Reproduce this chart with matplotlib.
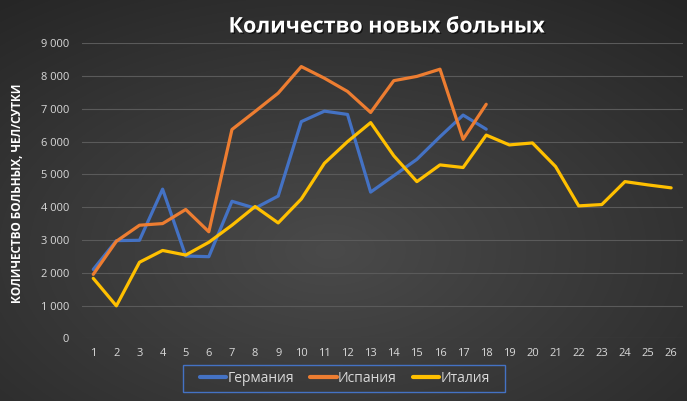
import numpy as np
import matplotlib
matplotlib.use("Agg")
import matplotlib.pyplot as plt
import matplotlib.ticker as mticker
import matplotlib.patheffects as pe
from matplotlib.patches import Rectangle

days = list(range(1, 27))
germany = [2100, 2980, 2990, 4550, 2510, 2490, 4180, 3970, 4340, 6610, 6930, 6830,
           4460, 4960, 5460, 6150, 6810, 6380]
spain = [1950, 2960, 3450, 3500, 3930, 3250, 6370, 6920, 7480, 8290, 7935, 7530,
         6890, 7860, 7990, 8210, 6070, 7140]
italy = [1830, 990, 2320, 2680, 2540, 2930, 3450, 4020, 3520, 4250, 5340, 6000,
         6580, 5570, 4780, 5290, 5210, 6200, 5900, 5960, 5240, 4040, 4080, 4780,
         4680, 4590]
series_names = ["Германия", "Испания", "Италия"]
colors = ["#4472C4", "#ED7D31", "#FFC000"]
title = "Количество новых больных"
ylabel = "КОЛИЧЕСТВО БОЛЬНЫХ, ЧЕЛ/СУТКИ"

plt.rcParams['font.family'] = ['Open Sans', 'DejaVu Sans']

fig = plt.figure(figsize=(6.87, 4.01), dpi=100)

# background radial gradient
bg = fig.add_axes([0, 0, 1, 1], zorder=-10)
H, W = 401, 687
yy, xx = np.mgrid[0:H, 0:W]
cx, cy = 330, 250
r = np.sqrt(((xx - cx) / W) ** 2 + ((yy - cy) / H) ** 2)
r = r / r.max()
inner = np.array([0x4a, 0x4a, 0x4a]) / 255
outer = np.array([0x25, 0x25, 0x25]) / 255
img = inner[None, None, :] * (1 - r[..., None]) + outer[None, None, :] * r[..., None]
bg.imshow(img, aspect='auto', extent=[0, 1, 0, 1], origin='upper')
bg.axis('off')

ax = fig.add_axes([81.7 / 687, 1 - 338.3 / 401, 601 / 687, 295 / 401])
ax.patch.set_alpha(0)
for vals, name, col in zip([germany, spain, italy], series_names, colors):
    ax.plot(days[:len(vals)], vals, color=col, lw=2.3, label=name,
            solid_joinstyle='round', solid_capstyle='round')

ax.set_xlim(0.5, 26.5)
ax.set_ylim(0, 9000)
ax.set_xticks(days)
ax.set_yticks(range(0, 9001, 1000))
ax.yaxis.set_major_formatter(mticker.FuncFormatter(lambda v, p: f"{int(v):,}".replace(",", " ")))
ax.grid(axis='y', color='#5a5a5a', lw=0.8)
ax.set_axisbelow(True)
for s in ax.spines.values():
    s.set_visible(False)
ax.tick_params(axis='both', length=0, colors='#d9d9d9', labelsize=8)
ax.tick_params(axis='y', pad=9)
ax.tick_params(axis='x', pad=7)

fig.text(386.5 / 687, 1 - 27 / 401, title, ha='center', va='center', color='white',
         fontsize=15.5, fontweight='bold',
         path_effects=[pe.withSimplePatchShadow(offset=(1, -1), shadow_rgbFace='black', alpha=0.6)])
fig.text(18 / 687, 1 - 193 / 401, ylabel, ha='center', va='center', rotation=90,
         color='white', fontsize=8.5, fontweight='bold')

leg = fig.legend(loc='center', bbox_to_anchor=(345 / 687, 1 - 378.5 / 401), ncol=3,
                 frameon=False, fontsize=10, handlelength=1.9, handletextpad=0.1,
                 columnspacing=1.15, borderpad=0.3, borderaxespad=0)
for line in leg.get_lines():
    line.set_linewidth(3)
    line.set_solid_capstyle('round')
for t in leg.get_texts():
    t.set_color('#d9d9d9')

# legend frame
fig.patches.append(Rectangle((183.5 / 687, 1 - 392 / 401), (505 - 183.5) / 687, 27 / 401,
                             transform=fig.transFigure, fill=False,
                             edgecolor='#4472C4', lw=1.0))

fig.savefig('out.png', dpi=100)
